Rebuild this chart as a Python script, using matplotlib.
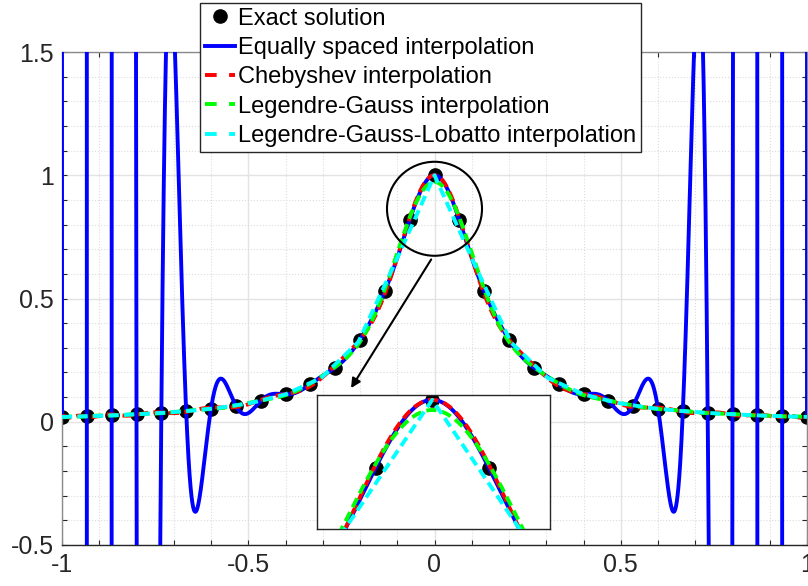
import numpy as np
import matplotlib
matplotlib.use('Agg')
import matplotlib.pyplot as plt
from matplotlib.patches import Ellipse
from matplotlib.ticker import MultipleLocator, FuncFormatter

plt.rcParams['font.family'] = ['Liberation Sans', 'DejaVu Sans']
plt.rcParams['axes.unicode_minus'] = False

# Exact solution samples (31 equally spaced nodes on [-1, 1])
n_nodes = 31
exact_y_half = [1.0, 0.818182, 0.529412, 0.333333, 0.219512, 0.152542, 0.111111,
                0.084112, 0.065693, 0.052632, 0.043062, 0.035857, 0.030303,
                0.025937, 0.022444, 0.019608]
exact_y = np.array(exact_y_half[:0:-1] + exact_y_half)
exact_x = np.linspace(-1, 1, n_nodes)

# node counts used by the other interpolations
n_cheb = 31
n_lg = 30
n_lgl = 31

legend_labels = ['Exact solution', 'Equally spaced interpolation', 'Chebyshev interpolation',
                 'Legendre-Gauss interpolation', 'Legendre-Gauss-Lobatto interpolation']


def bary_weights(xn):
    d = xn[:, None] - xn[None, :]
    np.fill_diagonal(d, 1.0)
    w = 1.0 / np.prod(d, axis=1)
    return w / np.abs(w).max()


def bary_eval(xn, yn, w, xe):
    d = xe[:, None] - xn[None, :]
    hit = d == 0
    d[hit] = 1.0
    t = w / d
    p = (t @ yn) / t.sum(axis=1)
    r, c = np.nonzero(hit)
    p[r] = yn[c]
    return p


# shape of the exact solution, fitted from the samples: y = 1 / (1 + c x^2)
mask = exact_x != 0
c_fit = np.median((1.0 / exact_y[mask] - 1.0) / exact_x[mask] ** 2)
exact_f = lambda x: 1.0 / (1.0 + c_fit * x ** 2)

xe = np.linspace(-1, 1, 8001)

# equally spaced
y_eq = bary_eval(exact_x, exact_y, bary_weights(exact_x), xe)

# Chebyshev (first kind roots)
x_ch = np.cos((2 * np.arange(n_cheb) + 1) * np.pi / (2 * n_cheb))
y_ch = bary_eval(x_ch, exact_f(x_ch), bary_weights(x_ch), xe)

# Legendre-Gauss
x_lg = np.polynomial.legendre.leggauss(n_lg)[0]
y_lg = bary_eval(x_lg, exact_f(x_lg), bary_weights(x_lg), xe)

# Legendre-Gauss-Lobatto (values at the nodes only)
inner = np.polynomial.legendre.Legendre.basis(n_lgl - 1).deriv().roots()
x_lgl = np.sort(np.concatenate([[-1.0], inner.real, [1.0]]))
y_lgl = exact_f(x_lgl)

lw = 2.8
dash = (2.6, 1.4)


def draw(ax):
    ax.plot(exact_x, exact_y, 'o', color='black', markersize=9.5, zorder=2, label=legend_labels[0])
    ax.plot(xe, y_eq, '-', color='#0000ff', lw=lw, zorder=3, label=legend_labels[1])
    ax.plot(xe, y_ch, '--', color='#ff0000', lw=lw, dashes=dash, zorder=4, label=legend_labels[2])
    ax.plot(xe, y_lg, '--', color='#00ff00', lw=lw, dashes=dash, zorder=5, label=legend_labels[3])
    ax.plot(x_lgl, y_lgl, '--', color='#00ffff', lw=lw, dashes=dash, zorder=6, label=legend_labels[4])


fig = plt.figure(figsize=(8.08, 5.86), dpi=100)
ax = fig.add_axes([62 / 808, 41 / 586, 745 / 808, 493 / 586])
draw(ax)
ax.set_xlim(-1, 1)
ax.set_ylim(-0.5, 1.5)
ax.xaxis.set_major_locator(MultipleLocator(0.5))
ax.yaxis.set_major_locator(MultipleLocator(0.5))
ax.xaxis.set_minor_locator(MultipleLocator(0.1))
ax.yaxis.set_minor_locator(MultipleLocator(0.1))
fmt = FuncFormatter(lambda v, p: f'{v:g}')
ax.xaxis.set_major_formatter(fmt)
ax.yaxis.set_major_formatter(fmt)
ax.tick_params(which='both', direction='in', top=True, right=True, length=3.4, width=0.8,
               color='#262626', labelsize=18, labelcolor='#262626')
ax.tick_params(axis='x', pad=6)
ax.tick_params(axis='y', pad=6)
ax.grid(which='major', color='#e3e3e3', lw=1.0, ls='-')
ax.grid(which='minor', color='#dcdcdc', lw=0.8, ls=':')
ax.set_axisbelow(True)
for s in ax.spines.values():
    s.set_color('#8a8a8a')
    s.set_linewidth(1.0)
ax.spines['bottom'].set_color('#262626')

# zoom circle and arrow
ax.add_patch(Ellipse((0.0, 0.864), 95 / 372.5, 94 / 246.5, fill=False, ec='black', lw=1.5, zorder=8))
ax.annotate('', xy=(-0.228, 0.127), xytext=(-0.005, 0.668),
            arrowprops=dict(arrowstyle='-|>', color='black', lw=1.5, mutation_scale=14), zorder=8)

leg = ax.legend(loc='upper left', bbox_to_anchor=(200 / 808, 1 - 3 / 586), bbox_transform=fig.transFigure,
                fontsize=17, frameon=True, fancybox=False, edgecolor='#262626', framealpha=1,
                borderaxespad=0, handlelength=1.3, handletextpad=0.12, labelspacing=0.31,
                borderpad=0.2)
leg.get_frame().set_linewidth(1.0)
leg.set_zorder(20)
# wider dash gaps for the legend samples
for h in leg.get_lines()[2:]:
    h.set_dashes((3.0, 3.2))

# inset
axi = fig.add_axes([317 / 808, 57 / 586, 233 / 808, 134 / 586])
draw(axi)
axi.set_xlim(-0.136, 0.139)
axi.set_ylim(0.653, 1.013)
axi.set_xticks([])
axi.set_yticks([])
for s in axi.spines.values():
    s.set_color('#262626')
    s.set_linewidth(1.0)

fig.savefig('out.png', dpi=100)
